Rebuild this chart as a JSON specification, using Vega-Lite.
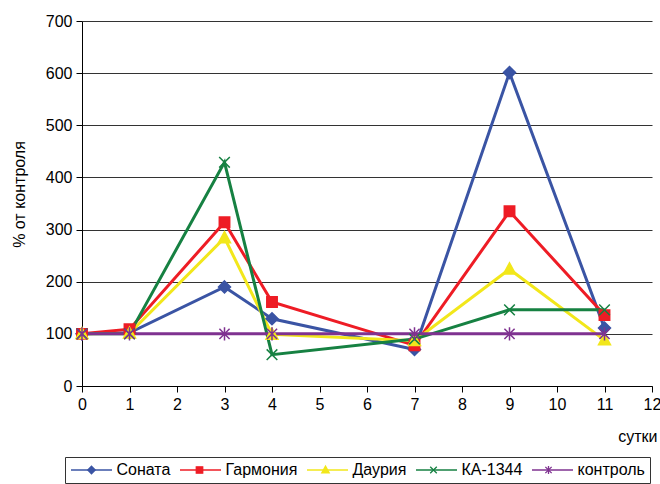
{
  "$schema": "https://vega.github.io/schema/vega-lite/v6.json",
  "width": 570,
  "height": 365,
  "autosize": {"type": "none"},
  "padding": {"left": 82, "top": 21, "right": 8, "bottom": 98},
  "background": "white",
  "config": {
    "font": "Liberation Sans",
    "view": {"stroke": null},
    "axis": {
      "domainColor": "#000000",
      "tickColor": "#000000",
      "tickSize": 6,
      "labelColor": "#000000",
      "labelFontSize": 16,
      "labelFlush": false,
      "titleColor": "#000000",
      "titleFontSize": 16,
      "titleFontWeight": "normal"
    }
  },
  "data": {
    "values": [
      {"day": 0, "series": "Соната", "n": 1, "value": 100},
      {"day": 1, "series": "Соната", "n": 1, "value": 102},
      {"day": 3, "series": "Соната", "n": 1, "value": 190},
      {"day": 4, "series": "Соната", "n": 1, "value": 129},
      {"day": 7, "series": "Соната", "n": 1, "value": 70},
      {"day": 9, "series": "Соната", "n": 1, "value": 601},
      {"day": 11, "series": "Соната", "n": 1, "value": 111},
      {"day": 0, "series": "Гармония", "n": 2, "value": 100},
      {"day": 1, "series": "Гармония", "n": 2, "value": 109},
      {"day": 3, "series": "Гармония", "n": 2, "value": 314},
      {"day": 4, "series": "Гармония", "n": 2, "value": 161},
      {"day": 7, "series": "Гармония", "n": 2, "value": 78},
      {"day": 9, "series": "Гармония", "n": 2, "value": 335},
      {"day": 11, "series": "Гармония", "n": 2, "value": 136},
      {"day": 0, "series": "Даурия", "n": 3, "value": 100},
      {"day": 1, "series": "Даурия", "n": 3, "value": 101},
      {"day": 3, "series": "Даурия", "n": 3, "value": 284},
      {"day": 4, "series": "Даурия", "n": 3, "value": 99},
      {"day": 7, "series": "Даурия", "n": 3, "value": 87},
      {"day": 9, "series": "Даурия", "n": 3, "value": 224},
      {"day": 11, "series": "Даурия", "n": 3, "value": 88},
      {"day": 0, "series": "КА-1344", "n": 4, "value": 100},
      {"day": 1, "series": "КА-1344", "n": 4, "value": 100},
      {"day": 3, "series": "КА-1344", "n": 4, "value": 429},
      {"day": 4, "series": "КА-1344", "n": 4, "value": 60},
      {"day": 7, "series": "КА-1344", "n": 4, "value": 90},
      {"day": 9, "series": "КА-1344", "n": 4, "value": 146},
      {"day": 11, "series": "КА-1344", "n": 4, "value": 146},
      {"day": 0, "series": "контроль", "n": 5, "value": 100},
      {"day": 1, "series": "контроль", "n": 5, "value": 100},
      {"day": 3, "series": "контроль", "n": 5, "value": 100},
      {"day": 4, "series": "контроль", "n": 5, "value": 100},
      {"day": 7, "series": "контроль", "n": 5, "value": 100},
      {"day": 9, "series": "контроль", "n": 5, "value": 100},
      {"day": 11, "series": "контроль", "n": 5, "value": 100}
    ]
  },
  "encoding": {
    "x": {
      "field": "day",
      "type": "quantitative",
      "scale": {"domain": [0, 12], "nice": false, "zero": false},
      "axis": {
        "values": [0, 1, 2, 3, 4, 5, 6, 7, 8, 9, 10, 11, 12],
        "title": "сутки",
        "grid": false,
        "labelPadding": 4,
        "titlePadding": 16,
        "titleX": 575,
        "titleAlign": "right"
      }
    },
    "y": {
      "field": "value",
      "type": "quantitative",
      "scale": {"domain": [0, 700], "nice": false},
      "axis": {
        "values": [0, 100, 200, 300, 400, 500, 600, 700],
        "title": "% от контроля",
        "grid": true,
        "gridColor": "#333333",
        "gridWidth": 1,
        "labelPadding": 4,
        "titlePadding": 18,
        "titleY": 173
      }
    }
  },
  "layer": [
    {
      "mark": {"type": "line", "strokeWidth": 3},
      "encoding": {
        "color": {
          "field": "series",
          "type": "nominal",
          "scale": {
            "domain": ["Соната", "Гармония", "Даурия", "КА-1344", "контроль"],
            "range": ["#3a54a4", "#ee1c25", "#f2e71b", "#168142", "#7f3290"]
          },
          "legend": {
            "title": null,
            "orient": "none",
            "legendX": -17,
            "legendY": 436,
            "direction": "horizontal",
            "symbolType": "M-2.93,0H2.93",
            "symbolSize": 196,
            "symbolOffset": 13.5,
            "symbolStrokeWidth": 1.5,
            "labelFont": "Liberation Sans",
            "labelFontSize": 16,
            "labelColor": "#000000",
            "labelOffset": 17,
            "columnPadding": 5,
            "padding": 5,
            "strokeColor": "#333333"
          }
        }
      }
    },
    {
      "mark": {"type": "point", "filled": true, "size": 512, "strokeWidth": 1.5, "opacity": 1},
      "encoding": {
        "shape": {
          "field": "series",
          "type": "nominal",
          "sort": {"field": "n", "op": "min"},
          "scale": {
            "range": [
              "M0,-0.53L0.53,0L0,0.53L-0.53,0Z M-2.93,0L-2.93,0 M2.93,0L2.93,0",
              "M-0.46,-0.46H0.46V0.46H-0.46Z M-2.93,0L-2.93,0 M2.93,0L2.93,0",
              "M0,-0.56L0.53,0.42L-0.53,0.42Z M-2.93,0L-2.93,0 M2.93,0L2.93,0",
              "M-0.47,-0.47L0.47,0.47 M-0.47,0.47L0.47,-0.47 M-2.93,0L-2.93,0 M2.93,0L2.93,0",
              "M-0.45,-0.45L0.45,0.45 M-0.45,0.45L0.45,-0.45 M0,-0.58V0.58 M-2.93,0L-2.93,0 M2.93,0L2.93,0"
            ]
          },
          "legend": {
            "title": null,
            "orient": "none",
            "legendX": -17,
            "legendY": 436,
            "direction": "horizontal",
            "symbolSize": 196,
            "symbolOffset": 13.5,
            "symbolStrokeWidth": 1.3,
            "labelFont": "Liberation Sans",
            "labelFontSize": 16,
            "labelOpacity": 0,
            "labelOffset": 17,
            "columnPadding": 5,
            "padding": 5
          }
        },
        "fill": {
          "field": "series",
          "type": "nominal",
          "sort": {"field": "n", "op": "min"},
          "scale": {"range": ["#3a54a4", "#ee1c25", "#f2e71b", "#168142", "#7f3290"]},
          "legend": {
            "title": null,
            "orient": "none",
            "legendX": -17,
            "legendY": 436,
            "direction": "horizontal",
            "symbolSize": 196,
            "symbolOffset": 13.5,
            "symbolStrokeWidth": 1.3,
            "labelFont": "Liberation Sans",
            "labelFontSize": 16,
            "labelOpacity": 0,
            "labelOffset": 17,
            "columnPadding": 5,
            "padding": 5
          }
        },
        "stroke": {
          "field": "series",
          "type": "nominal",
          "sort": {"field": "n", "op": "min"},
          "scale": {"range": ["#3a54a4", "#ee1c25", "#f2e71b", "#168142", "#7f3290"]},
          "legend": {
            "title": null,
            "orient": "none",
            "legendX": -17,
            "legendY": 436,
            "direction": "horizontal",
            "symbolSize": 196,
            "symbolOffset": 13.5,
            "symbolStrokeWidth": 1.3,
            "labelFont": "Liberation Sans",
            "labelFontSize": 16,
            "labelOpacity": 0,
            "labelOffset": 17,
            "columnPadding": 5,
            "padding": 5
          }
        }
      }
    }
  ]
}
